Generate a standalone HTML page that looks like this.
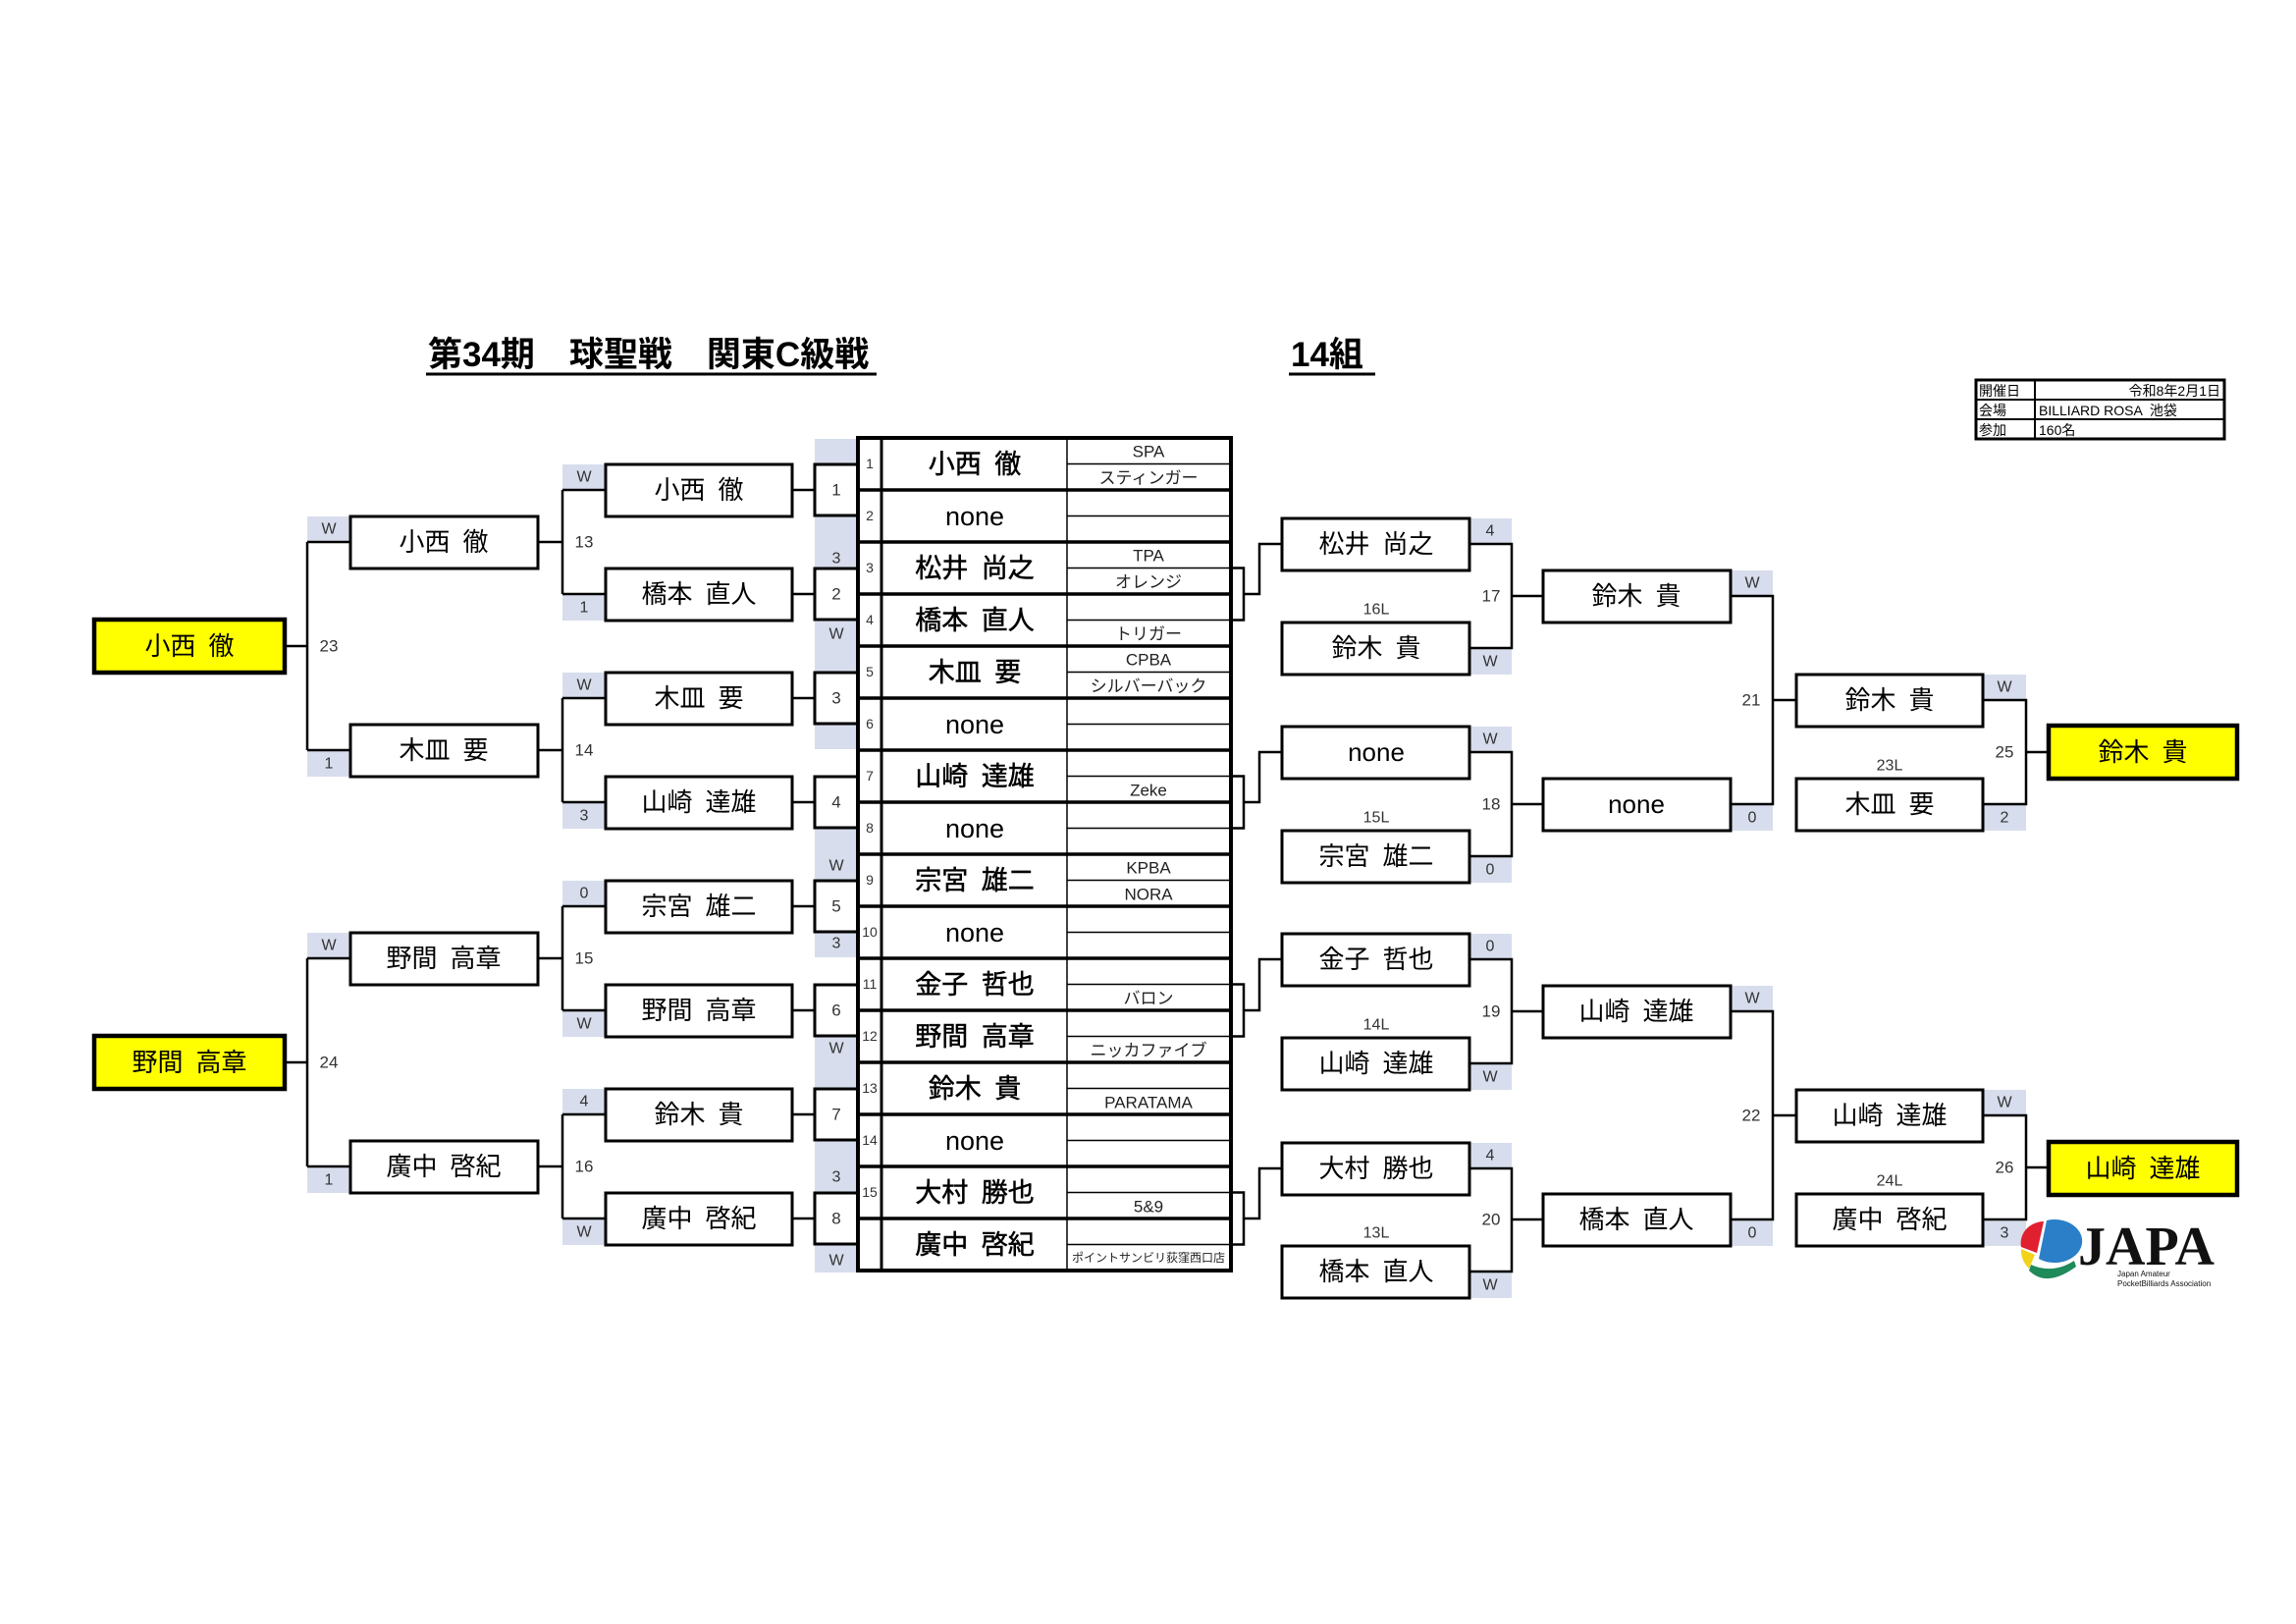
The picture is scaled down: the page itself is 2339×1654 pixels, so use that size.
<!DOCTYPE html>
<html><head><meta charset="utf-8"><style>
html,body{margin:0;padding:0;background:#fff;}
svg{display:block;font-family:"Liberation Sans","Noto Sans CJK JP",sans-serif;}
.n{font-size:26px;text-anchor:middle;dominant-baseline:central;fill:#000;}
.cn{font-size:27px;text-anchor:middle;dominant-baseline:central;fill:#000;stroke:#000;stroke-width:0.5;}
.s{font-size:16px;text-anchor:middle;dominant-baseline:central;fill:#333;}
.c{font-size:17px;text-anchor:middle;dominant-baseline:central;fill:#222;}
.b{fill:#fff;stroke:#000;stroke-width:3;}
.y{fill:#ffff00;stroke:#000;stroke-width:4.5;}
.t{fill:#d7ddec;}
.l{fill:none;stroke:#000;stroke-width:2.5;}
</style></head><body>
<svg width="2339" height="1654" viewBox="0 0 2339 1654" xmlns="http://www.w3.org/2000/svg">
<text x="436" y="373" style="font-size:35px;font-weight:bold">第34期　球聖戦　関東C級戦</text>
<line x1="434" y1="381" x2="893" y2="381" stroke="#000" stroke-width="3"/>
<text x="1315" y="373" style="font-size:35px;font-weight:bold">14組</text>
<line x1="1313" y1="381" x2="1401" y2="381" stroke="#000" stroke-width="3"/>
<g stroke="#000" fill="none">
<rect x="2013" y="387" width="253" height="60" stroke-width="3"/>
<line x1="2013" y1="407" x2="2266" y2="407" stroke-width="2"/>
<line x1="2013" y1="427" x2="2266" y2="427" stroke-width="2"/>
<line x1="2073" y1="387" x2="2073" y2="447" stroke-width="2"/>
</g>
<g style="font-size:14px" fill="#000">
<text x="2016" y="403">開催日</text><text x="2262" y="403" text-anchor="end">令和8年2月1日</text>
<text x="2016" y="423">会場</text><text x="2077" y="423">BILLIARD ROSA&#8194;池袋</text>
<text x="2016" y="443">参加</text><text x="2077" y="443">160名</text>
</g>

<rect class="t" x="313" y="526" width="43" height="26"/><text class="s" x="335" y="539">W</text>
<rect class="t" x="313" y="764" width="43" height="27"/><text class="s" x="335" y="778">1</text>
<rect class="t" x="313" y="950" width="43" height="26"/><text class="s" x="335" y="963">W</text>
<rect class="t" x="313" y="1188" width="43" height="27"/><text class="s" x="335" y="1202">1</text>
<rect class="t" x="573" y="473" width="43" height="26"/><text class="s" x="595" y="486">W</text>
<rect class="t" x="573" y="605" width="43" height="27"/><text class="s" x="595" y="619">1</text>
<rect class="t" x="573" y="685" width="43" height="26"/><text class="s" x="595" y="698">W</text>
<rect class="t" x="573" y="817" width="43" height="27"/><text class="s" x="595" y="831">3</text>
<rect class="t" x="573" y="897" width="43" height="26"/><text class="s" x="595" y="910">0</text>
<rect class="t" x="573" y="1029" width="43" height="27"/><text class="s" x="595" y="1043">W</text>
<rect class="t" x="573" y="1109" width="43" height="26"/><text class="s" x="595" y="1122">4</text>
<rect class="t" x="573" y="1241" width="43" height="27"/><text class="s" x="595" y="1255">W</text>
<rect class="t" x="830" y="447" width="44" height="316"/>
<rect class="t" x="830" y="843" width="44" height="132"/>
<rect class="t" x="830" y="1053" width="44" height="243"/>
<text class="s" x="852" y="569">3</text><text class="s" x="852" y="646">W</text>
<text class="s" x="852" y="882">W</text><text class="s" x="852" y="961">3</text>
<text class="s" x="852" y="1068">W</text><text class="s" x="852" y="1199">3</text>
<text class="s" x="852" y="1284">W</text>

<path class="l" d="M290 658H313M313 552V764M313 552H357M313 764H357"/>
<path class="l" d="M290 1082H313M313 976V1188M313 976H357M313 1188H357"/>
<path class="l" d="M548 552H573M573 499V605M548 764H573M573 711V817M548 976H573M573 923V1029M548 1188H573M573 1135V1241"/>
<path class="l" d="M573 499H617M573 605H617M573 711H617M573 817H617M573 923H617M573 1029H617M573 1135H617M573 1241H617"/>
<path class="l" d="M807 499H830M807 605H830M807 711H830M807 817H830M807 923H830M807 1029H830M807 1135H830M807 1241H830"/>
<text class="s" x="335" y="658" style="font-size:17px">23</text>
<text class="s" x="335" y="1082" style="font-size:17px">24</text>
<text class="s" x="595" y="552" style="font-size:17px">13</text>
<text class="s" x="595" y="764" style="font-size:17px">14</text>
<text class="s" x="595" y="976" style="font-size:17px">15</text>
<text class="s" x="595" y="1188" style="font-size:17px">16</text>

<rect class="y" x="96" y="631" width="194" height="54"/><text class="n" x="193" y="658">小西&#8194;徹</text>
<rect class="y" x="96" y="1055" width="194" height="54"/><text class="n" x="193" y="1082">野間&#8194;高章</text>
<rect class="b" x="357" y="526" width="191" height="53"/><text class="n" x="452" y="552">小西&#8194;徹</text>
<rect class="b" x="357" y="738" width="191" height="53"/><text class="n" x="452" y="764">木皿&#8194;要</text>
<rect class="b" x="357" y="950" width="191" height="53"/><text class="n" x="452" y="976">野間&#8194;高章</text>
<rect class="b" x="357" y="1162" width="191" height="53"/><text class="n" x="452" y="1188">廣中&#8194;啓紀</text>
<rect class="b" x="617" y="473" width="190" height="53"/><text class="n" x="712" y="499">小西&#8194;徹</text>
<rect class="b" x="617" y="579" width="190" height="53"/><text class="n" x="712" y="605">橋本&#8194;直人</text>
<rect class="b" x="617" y="685" width="190" height="53"/><text class="n" x="712" y="711">木皿&#8194;要</text>
<rect class="b" x="617" y="791" width="190" height="53"/><text class="n" x="712" y="817">山崎&#8194;達雄</text>
<rect class="b" x="617" y="897" width="190" height="53"/><text class="n" x="712" y="923">宗宮&#8194;雄二</text>
<rect class="b" x="617" y="1003" width="190" height="53"/><text class="n" x="712" y="1029">野間&#8194;高章</text>
<rect class="b" x="617" y="1109" width="190" height="53"/><text class="n" x="712" y="1135">鈴木&#8194;貴</text>
<rect class="b" x="617" y="1215" width="190" height="53"/><text class="n" x="712" y="1241">廣中&#8194;啓紀</text>
<rect class="b" x="830" y="473" width="44" height="52"/><text class="s" x="852" y="499" style="font-size:17px">1</text>
<rect class="b" x="830" y="579" width="44" height="52"/><text class="s" x="852" y="605" style="font-size:17px">2</text>
<rect class="b" x="830" y="685" width="44" height="52"/><text class="s" x="852" y="711" style="font-size:17px">3</text>
<rect class="b" x="830" y="791" width="44" height="52"/><text class="s" x="852" y="817" style="font-size:17px">4</text>
<rect class="b" x="830" y="897" width="44" height="52"/><text class="s" x="852" y="923" style="font-size:17px">5</text>
<rect class="b" x="830" y="1003" width="44" height="52"/><text class="s" x="852" y="1029" style="font-size:17px">6</text>
<rect class="b" x="830" y="1109" width="44" height="52"/><text class="s" x="852" y="1135" style="font-size:17px">7</text>
<rect class="b" x="830" y="1215" width="44" height="52"/><text class="s" x="852" y="1241" style="font-size:17px">8</text>

<rect x="874" y="446" width="380" height="848" fill="#fff" stroke="#000" stroke-width="4"/>
<g stroke="#000" stroke-width="1.5">
<line x1="1087" y1="472.5" x2="1252" y2="472.5"/><line x1="1087" y1="525.5" x2="1252" y2="525.5"/>
<line x1="1087" y1="578.5" x2="1252" y2="578.5"/><line x1="1087" y1="631.5" x2="1252" y2="631.5"/>
<line x1="1087" y1="684.5" x2="1252" y2="684.5"/><line x1="1087" y1="737.5" x2="1252" y2="737.5"/>
<line x1="1087" y1="790.5" x2="1252" y2="790.5"/><line x1="1087" y1="843.5" x2="1252" y2="843.5"/>
<line x1="1087" y1="896.5" x2="1252" y2="896.5"/><line x1="1087" y1="949.5" x2="1252" y2="949.5"/>
<line x1="1087" y1="1002.5" x2="1252" y2="1002.5"/><line x1="1087" y1="1055.5" x2="1252" y2="1055.5"/>
<line x1="1087" y1="1108.5" x2="1252" y2="1108.5"/><line x1="1087" y1="1161.5" x2="1252" y2="1161.5"/>
<line x1="1087" y1="1214.5" x2="1252" y2="1214.5"/><line x1="1087" y1="1267.5" x2="1252" y2="1267.5"/>
<line x1="1087" y1="446" x2="1087" y2="1294"/>
</g>
<g stroke="#000" stroke-width="3.5">
<line x1="874" y1="499" x2="1254" y2="499"/><line x1="874" y1="552" x2="1254" y2="552"/>
<line x1="874" y1="605" x2="1254" y2="605"/><line x1="874" y1="658" x2="1254" y2="658"/>
<line x1="874" y1="711" x2="1254" y2="711"/><line x1="874" y1="764" x2="1254" y2="764"/>
<line x1="874" y1="817" x2="1254" y2="817"/><line x1="874" y1="870" x2="1254" y2="870"/>
<line x1="874" y1="923" x2="1254" y2="923"/><line x1="874" y1="976" x2="1254" y2="976"/>
<line x1="874" y1="1029" x2="1254" y2="1029"/><line x1="874" y1="1082" x2="1254" y2="1082"/>
<line x1="874" y1="1135" x2="1254" y2="1135"/><line x1="874" y1="1188" x2="1254" y2="1188"/>
<line x1="874" y1="1241" x2="1254" y2="1241"/>
<line x1="898" y1="446" x2="898" y2="1294" stroke-width="3"/>
</g>
<text class="s" x="886" y="472" style="font-size:14px">1</text><text class="s" x="886" y="525" style="font-size:14px">2</text>
<text class="s" x="886" y="578" style="font-size:14px">3</text><text class="s" x="886" y="631" style="font-size:14px">4</text>
<text class="s" x="886" y="684" style="font-size:14px">5</text><text class="s" x="886" y="737" style="font-size:14px">6</text>
<text class="s" x="886" y="790" style="font-size:14px">7</text><text class="s" x="886" y="843" style="font-size:14px">8</text>
<text class="s" x="886" y="896" style="font-size:14px">9</text><text class="s" x="886" y="949" style="font-size:14px">10</text>
<text class="s" x="886" y="1002" style="font-size:14px">11</text><text class="s" x="886" y="1055" style="font-size:14px">12</text>
<text class="s" x="886" y="1108" style="font-size:14px">13</text><text class="s" x="886" y="1161" style="font-size:14px">14</text>
<text class="s" x="886" y="1214" style="font-size:14px">15</text>
<text class="cn" x="993" y="473">小西&#8194;徹</text>
<text class="cn" x="993" y="526" style="stroke-width:0">none</text>
<text class="cn" x="993" y="579">松井&#8194;尚之</text>
<text class="cn" x="993" y="632">橋本&#8194;直人</text>
<text class="cn" x="993" y="685">木皿&#8194;要</text>
<text class="cn" x="993" y="738" style="stroke-width:0">none</text>
<text class="cn" x="993" y="791">山崎&#8194;達雄</text>
<text class="cn" x="993" y="844" style="stroke-width:0">none</text>
<text class="cn" x="993" y="897">宗宮&#8194;雄二</text>
<text class="cn" x="993" y="950" style="stroke-width:0">none</text>
<text class="cn" x="993" y="1003">金子&#8194;哲也</text>
<text class="cn" x="993" y="1056">野間&#8194;高章</text>
<text class="cn" x="993" y="1109">鈴木&#8194;貴</text>
<text class="cn" x="993" y="1162" style="stroke-width:0">none</text>
<text class="cn" x="993" y="1215">大村&#8194;勝也</text>
<text class="cn" x="993" y="1268">廣中&#8194;啓紀</text>
<text class="c" x="1170" y="460">SPA</text><text class="c" x="1170" y="487">スティンガー</text>
<text class="c" x="1170" y="566">TPA</text><text class="c" x="1170" y="593">オレンジ</text>
<text class="c" x="1170" y="646">トリガー</text>
<text class="c" x="1170" y="672">CPBA</text><text class="c" x="1170" y="699">シルバーバック</text>
<text class="c" x="1170" y="805">Zeke</text>
<text class="c" x="1170" y="884">KPBA</text><text class="c" x="1170" y="911">NORA</text>
<text class="c" x="1170" y="1017">バロン</text>
<text class="c" x="1170" y="1070">ニッカファイブ</text>
<text class="c" x="1170" y="1123">PARATAMA</text>
<text class="c" x="1170" y="1229">5&amp;9</text>
<text class="c" x="1170" y="1281" style="font-size:12px">ポイントサンビリ荻窪西口店</text>

<path class="l" d="M1254 578.5H1267V631.5H1254M1267 605H1283V554H1306"/>
<path class="l" d="M1254 790.5H1267V843.5H1254M1267 817H1283V766H1306"/>
<path class="l" d="M1254 1002.5H1267V1055.5H1254M1267 1029H1283V977H1306"/>
<path class="l" d="M1254 1214.5H1267V1267.5H1254M1267 1241H1283V1190H1306"/>
<rect class="t" x="1497" y="528" width="43" height="26"/><text class="s" x="1518" y="541">4</text>
<rect class="t" x="1497" y="660" width="43" height="27"/><text class="s" x="1518" y="674">W</text>
<rect class="t" x="1497" y="740" width="43" height="26"/><text class="s" x="1518" y="753">W</text>
<rect class="t" x="1497" y="872" width="43" height="27"/><text class="s" x="1518" y="886">0</text>
<rect class="t" x="1497" y="951" width="43" height="26"/><text class="s" x="1518" y="964">0</text>
<rect class="t" x="1497" y="1083" width="43" height="27"/><text class="s" x="1518" y="1097">W</text>
<rect class="t" x="1497" y="1164" width="43" height="26"/><text class="s" x="1518" y="1177">4</text>
<rect class="t" x="1497" y="1295" width="43" height="27"/><text class="s" x="1518" y="1309">W</text>
<rect class="t" x="1763" y="581" width="43" height="26"/><text class="s" x="1785" y="594">W</text>
<rect class="t" x="1763" y="819" width="43" height="27"/><text class="s" x="1785" y="833">0</text>
<rect class="t" x="1763" y="1004" width="43" height="26"/><text class="s" x="1785" y="1017">W</text>
<rect class="t" x="1763" y="1242" width="43" height="27"/><text class="s" x="1785" y="1256">0</text>
<rect class="t" x="2020" y="687" width="44" height="26"/><text class="s" x="2042" y="700">W</text>
<rect class="t" x="2020" y="819" width="44" height="27"/><text class="s" x="2042" y="833">2</text>
<rect class="t" x="2020" y="1110" width="44" height="26"/><text class="s" x="2042" y="1123">W</text>
<rect class="t" x="2020" y="1242" width="44" height="27"/><text class="s" x="2042" y="1256">3</text>
<path class="l" d="M1497 554H1540V660H1497M1540 607H1572"/>
<path class="l" d="M1497 766H1540V872H1497M1540 819H1572"/>
<path class="l" d="M1497 977H1540V1083H1497M1540 1030H1572"/>
<path class="l" d="M1497 1190H1540V1295H1497M1540 1242H1572"/>
<path class="l" d="M1763 607H1806V819H1763M1806 713H1830"/>
<path class="l" d="M1763 1030H1806V1242H1763M1806 1136H1830"/>
<path class="l" d="M2020 713H2064V819H2020M2064 766H2087"/>
<path class="l" d="M2020 1136H2064V1242H2020M2064 1189H2087"/>
<text class="s" x="1519" y="607" style="font-size:17px">17</text>
<text class="s" x="1519" y="819" style="font-size:17px">18</text>
<text class="s" x="1519" y="1030" style="font-size:17px">19</text>
<text class="s" x="1519" y="1242" style="font-size:17px">20</text>
<text class="s" x="1784" y="713" style="font-size:17px">21</text>
<text class="s" x="1784" y="1136" style="font-size:17px">22</text>
<text class="s" x="2042" y="766" style="font-size:17px">25</text>
<text class="s" x="2042" y="1189" style="font-size:17px">26</text>
<rect class="b" x="1306" y="528" width="191" height="53"/><text class="n" x="1402" y="554">松井&#8194;尚之</text>
<rect class="b" x="1306" y="634" width="191" height="53"/><text class="n" x="1402" y="660">鈴木&#8194;貴</text>
<rect class="b" x="1306" y="740" width="191" height="53"/><text class="n" x="1402" y="766">none</text>
<rect class="b" x="1306" y="846" width="191" height="53"/><text class="n" x="1402" y="872">宗宮&#8194;雄二</text>
<rect class="b" x="1306" y="951" width="191" height="53"/><text class="n" x="1402" y="977">金子&#8194;哲也</text>
<rect class="b" x="1306" y="1057" width="191" height="53"/><text class="n" x="1402" y="1083">山崎&#8194;達雄</text>
<rect class="b" x="1306" y="1164" width="191" height="53"/><text class="n" x="1402" y="1190">大村&#8194;勝也</text>
<rect class="b" x="1306" y="1269" width="191" height="53"/><text class="n" x="1402" y="1295">橋本&#8194;直人</text>
<text class="s" x="1402" y="621">16L</text>
<text class="s" x="1402" y="833">15L</text>
<text class="s" x="1402" y="1044">14L</text>
<text class="s" x="1402" y="1256">13L</text>
<rect class="b" x="1572" y="581" width="191" height="53"/><text class="n" x="1667" y="607">鈴木&#8194;貴</text>
<rect class="b" x="1572" y="793" width="191" height="53"/><text class="n" x="1667" y="819">none</text>
<rect class="b" x="1572" y="1004" width="191" height="53"/><text class="n" x="1667" y="1030">山崎&#8194;達雄</text>
<rect class="b" x="1572" y="1216" width="191" height="53"/><text class="n" x="1667" y="1242">橋本&#8194;直人</text>
<rect class="b" x="1830" y="687" width="190" height="53"/><text class="n" x="1925" y="713">鈴木&#8194;貴</text>
<rect class="b" x="1830" y="793" width="190" height="53"/><text class="n" x="1925" y="819">木皿&#8194;要</text>
<rect class="b" x="1830" y="1110" width="190" height="53"/><text class="n" x="1925" y="1136">山崎&#8194;達雄</text>
<rect class="b" x="1830" y="1216" width="190" height="53"/><text class="n" x="1925" y="1242">廣中&#8194;啓紀</text>
<text class="s" x="1925" y="780">23L</text>
<text class="s" x="1925" y="1203">24L</text>
<rect class="y" x="2087" y="739" width="192" height="54"/><text class="n" x="2183" y="766">鈴木&#8194;貴</text>
<rect class="y" x="2087" y="1163" width="192" height="54"/><text class="n" x="2183" y="1190">山崎&#8194;達雄</text>

<g transform="translate(2055,1240)">
<path d="M27 4 A24 22 0 0 0 4 30 L20 36 Z" fill="#e0202e"/>
<path d="M4 32 L18 38 L12 52 A26 26 0 0 1 4 32Z" fill="#f3d21a"/>
<path d="M30 3 A28 22 0 1 1 22 42 Z" fill="#2a7fc8"/>
<path d="M12 54 Q30 72 60 50 L58 44 Q36 58 14 48Z" fill="#1f8a5a"/>
<text x="62" y="48" style="font-size:56px;font-weight:bold;font-family:'Liberation Serif',serif" fill="#111">JAPA</text>
<text x="102" y="60" style="font-size:8px" fill="#111">Japan Amateur</text>
<text x="102" y="70" style="font-size:8px" fill="#111">PocketBilliards Association</text>
</g>
</svg>
</body></html>
